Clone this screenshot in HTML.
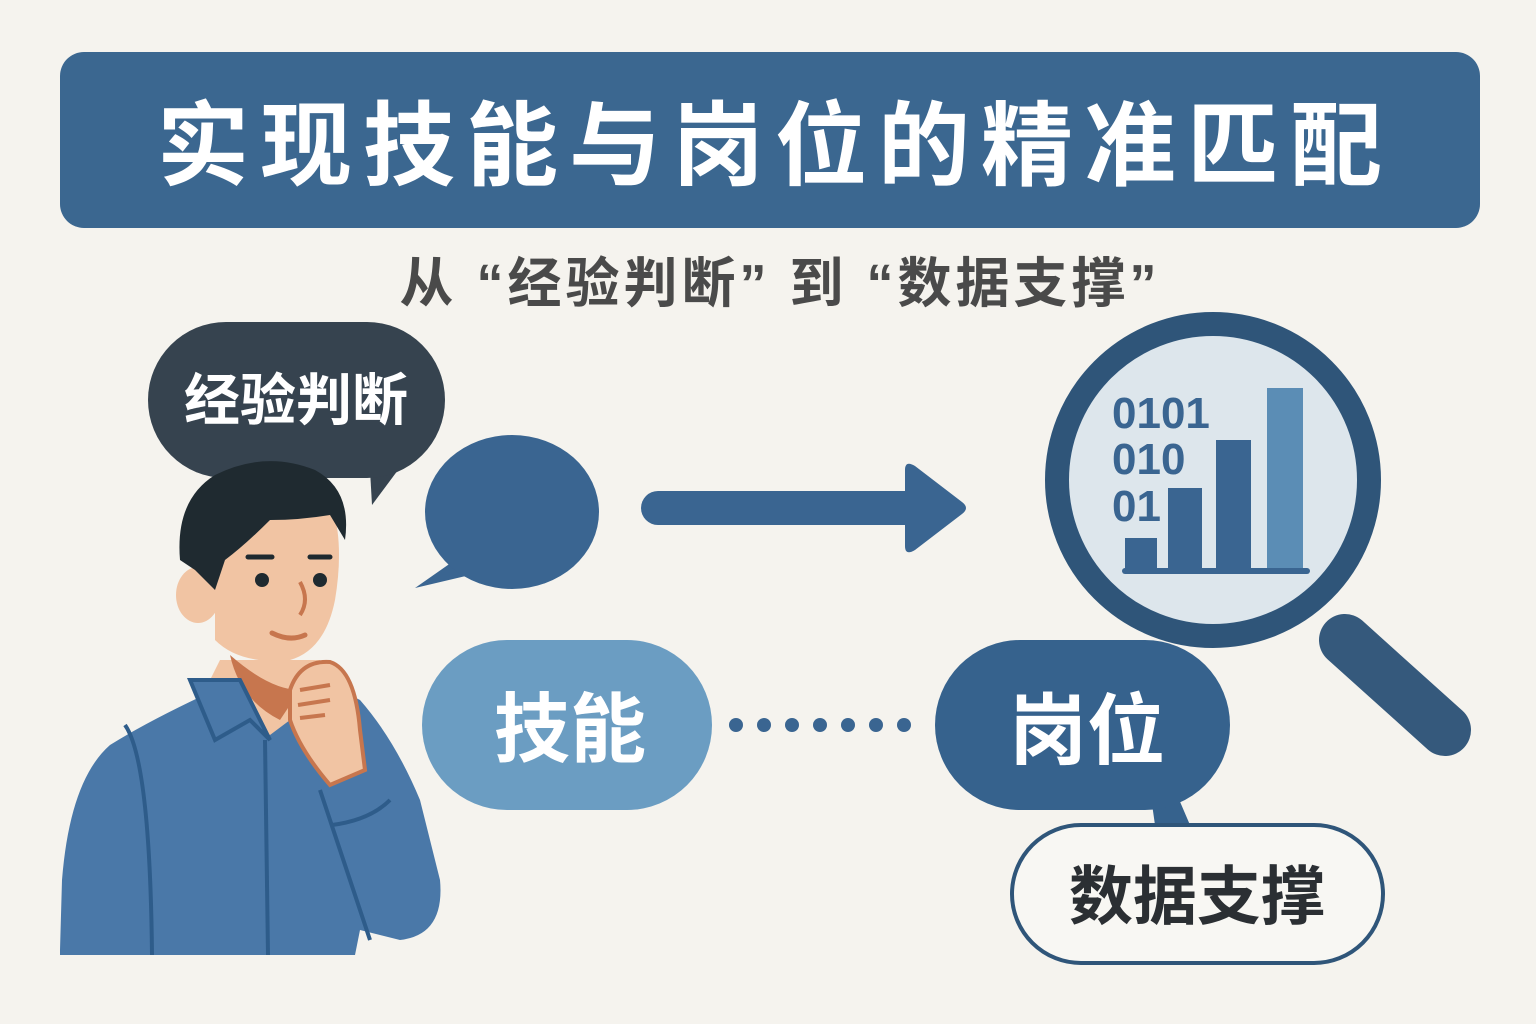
<!DOCTYPE html>
<html><head><meta charset="utf-8"><style>
html,body{margin:0;padding:0;background:#f5f3ee;}
svg{display:block}
text{font-family:"Liberation Sans","Noto Sans CJK SC",sans-serif;font-weight:700}
</style></head><body>
<svg width="1536" height="1024" viewBox="0 0 1536 1024" xmlns="http://www.w3.org/2000/svg">
<rect width="1536" height="1024" fill="#f5f3ee"/>
<rect x="60" y="52" width="1420" height="176" rx="24" fill="#3b6790"/>
<text x="775" y="178" font-size="92" fill="#fff" text-anchor="middle" letter-spacing="11">实现技能与岗位的精准匹配</text>
<text x="780" y="302" font-size="54" fill="#4a4a4a" text-anchor="middle" letter-spacing="4">从 “经验判断” 到 “数据支撑”</text>

<!-- dark bubble -->
<path d="M370 470 L372 505 L398 470 Z" fill="#36434f"/>
<rect x="148" y="322" width="297" height="156" rx="78" fill="#36434f"/>
<text x="296" y="420" font-size="56" fill="#fff" text-anchor="middle">经验判断</text>

<!-- blue bubble -->
<path d="M455 560 L415 588 L470 575 Z" fill="#3a6591"/>
<ellipse cx="512" cy="512" rx="87" ry="77" fill="#3a6591"/>

<!-- arrow -->
<line x1="658" y1="508" x2="920" y2="508" stroke="#3a6591" stroke-width="34" stroke-linecap="round"/>
<path d="M905 470 Q905 460 915 466 L962 502 Q970 508 962 514 L915 550 Q905 556 905 546 Z" fill="#3a6591"/>

<!-- magnifier -->
<line x1="1345" y1="640" x2="1445" y2="730" stroke="#35597c" stroke-width="52" stroke-linecap="round"/>
<circle cx="1213" cy="480" r="156" fill="#dde6ec" stroke="#2f5579" stroke-width="24"/>
<g font-size="44" fill="#3a6591">
<text x="1112" y="428">0101</text>
<text x="1112" y="474">010</text>
<text x="1112" y="521">01</text>
</g>
<rect x="1125" y="538" width="32" height="33" fill="#3a6591"/>
<rect x="1168" y="488" width="34" height="83" fill="#3a6591"/>
<rect x="1216" y="440" width="35" height="131" fill="#3a6591"/>
<rect x="1267" y="388" width="36" height="183" fill="#5b8db5"/>
<rect x="1122" y="568" width="188" height="6" rx="3" fill="#3a6591"/>

<!-- skills pill -->
<rect x="422" y="640" width="290" height="170" rx="85" fill="#6b9dc2"/>
<text x="570" y="756" font-size="76" fill="#fff" text-anchor="middle">技能</text>
<g fill="#3a6591">
<circle cx="736" cy="725" r="7"/><circle cx="764" cy="725" r="7"/><circle cx="792" cy="725" r="7"/><circle cx="820" cy="725" r="7"/><circle cx="848" cy="725" r="7"/><circle cx="876" cy="725" r="7"/><circle cx="904" cy="725" r="7"/>
</g>
<!-- position pill -->
<path d="M1140 790 L1150 790 L1155 825 L1190 825 L1175 790 Z" fill="#36628d"/>
<rect x="935" y="640" width="295" height="170" rx="85" fill="#36628d"/>
<text x="1087" y="758" font-size="78" fill="#fff" text-anchor="middle">岗位</text>

<!-- data pill -->
<rect x="1012" y="825" width="371" height="138" rx="69" fill="#f8f7f3" stroke="#2f5579" stroke-width="4"/>
<text x="1197" y="919" font-size="64" fill="#2b2f33" text-anchor="middle">数据支撑</text>

<!-- person -->
<path d="M60 950 L62 880 Q70 780 110 745 Q150 720 215 690 L300 670 L360 700 Q395 740 420 800 L440 880 Q445 935 400 940 L360 930 L355 955 L60 955 Z" fill="#4a78a8"/>
<path d="M205 690 L220 660 L320 660 L330 690 L270 735 Z" fill="#f1c4a3"/>
<path d="M230 655 Q270 690 300 690 L280 720 Q240 700 230 655 Z" fill="#c7764e"/>
<path d="M190 680 L215 740 L250 720 L270 740 L240 680 Z" fill="#4a78a8" stroke="#2e5c8a" stroke-width="4"/>
<path d="M265 740 L268 955" stroke="#2e5c8a" stroke-width="4" fill="none"/>
<path d="M125 725 Q150 760 152 955" stroke="#2e5c8a" stroke-width="4" fill="none"/>
<path d="M320 790 L370 940" stroke="#2e5c8a" stroke-width="4" fill="none"/>
<path d="M332 825 Q370 820 390 800" stroke="#2e5c8a" stroke-width="4" fill="none"/>
<!-- face -->
<path d="M215 540 Q215 500 260 495 L330 500 Q345 540 335 600 Q325 650 290 660 Q240 665 215 640 Z" fill="#f1c4a3"/>
<ellipse cx="198" cy="595" rx="22" ry="28" fill="#f1c4a3"/>
<path d="M180 560 Q175 500 215 475 Q265 450 315 470 Q352 490 345 540 L330 515 Q300 520 270 520 Q245 545 225 560 L215 590 L195 570 Z" fill="#1f2a30"/>
<circle cx="262" cy="580" r="7" fill="#1f2a30"/><circle cx="320" cy="580" r="7" fill="#1f2a30"/>
<path d="M248 557 L272 557 M310 557 L330 557" stroke="#1f2a30" stroke-width="5" stroke-linecap="round"/>
<path d="M300 582 Q310 600 300 615" stroke="#c7764e" stroke-width="4" fill="none"/>
<path d="M272 633 Q290 642 305 635" stroke="#c7764e" stroke-width="5" fill="none" stroke-linecap="round"/>
<!-- hand -->
<path d="M290 690 Q300 660 330 662 Q355 670 360 730 L365 770 L330 785 Q300 750 290 720 Z" fill="#f1c4a3" stroke="#c7764e" stroke-width="4"/>
<path d="M300 690 L330 685 M298 705 L330 700 M300 718 L325 715" stroke="#c7764e" stroke-width="4"/>
</svg>
</body></html>
